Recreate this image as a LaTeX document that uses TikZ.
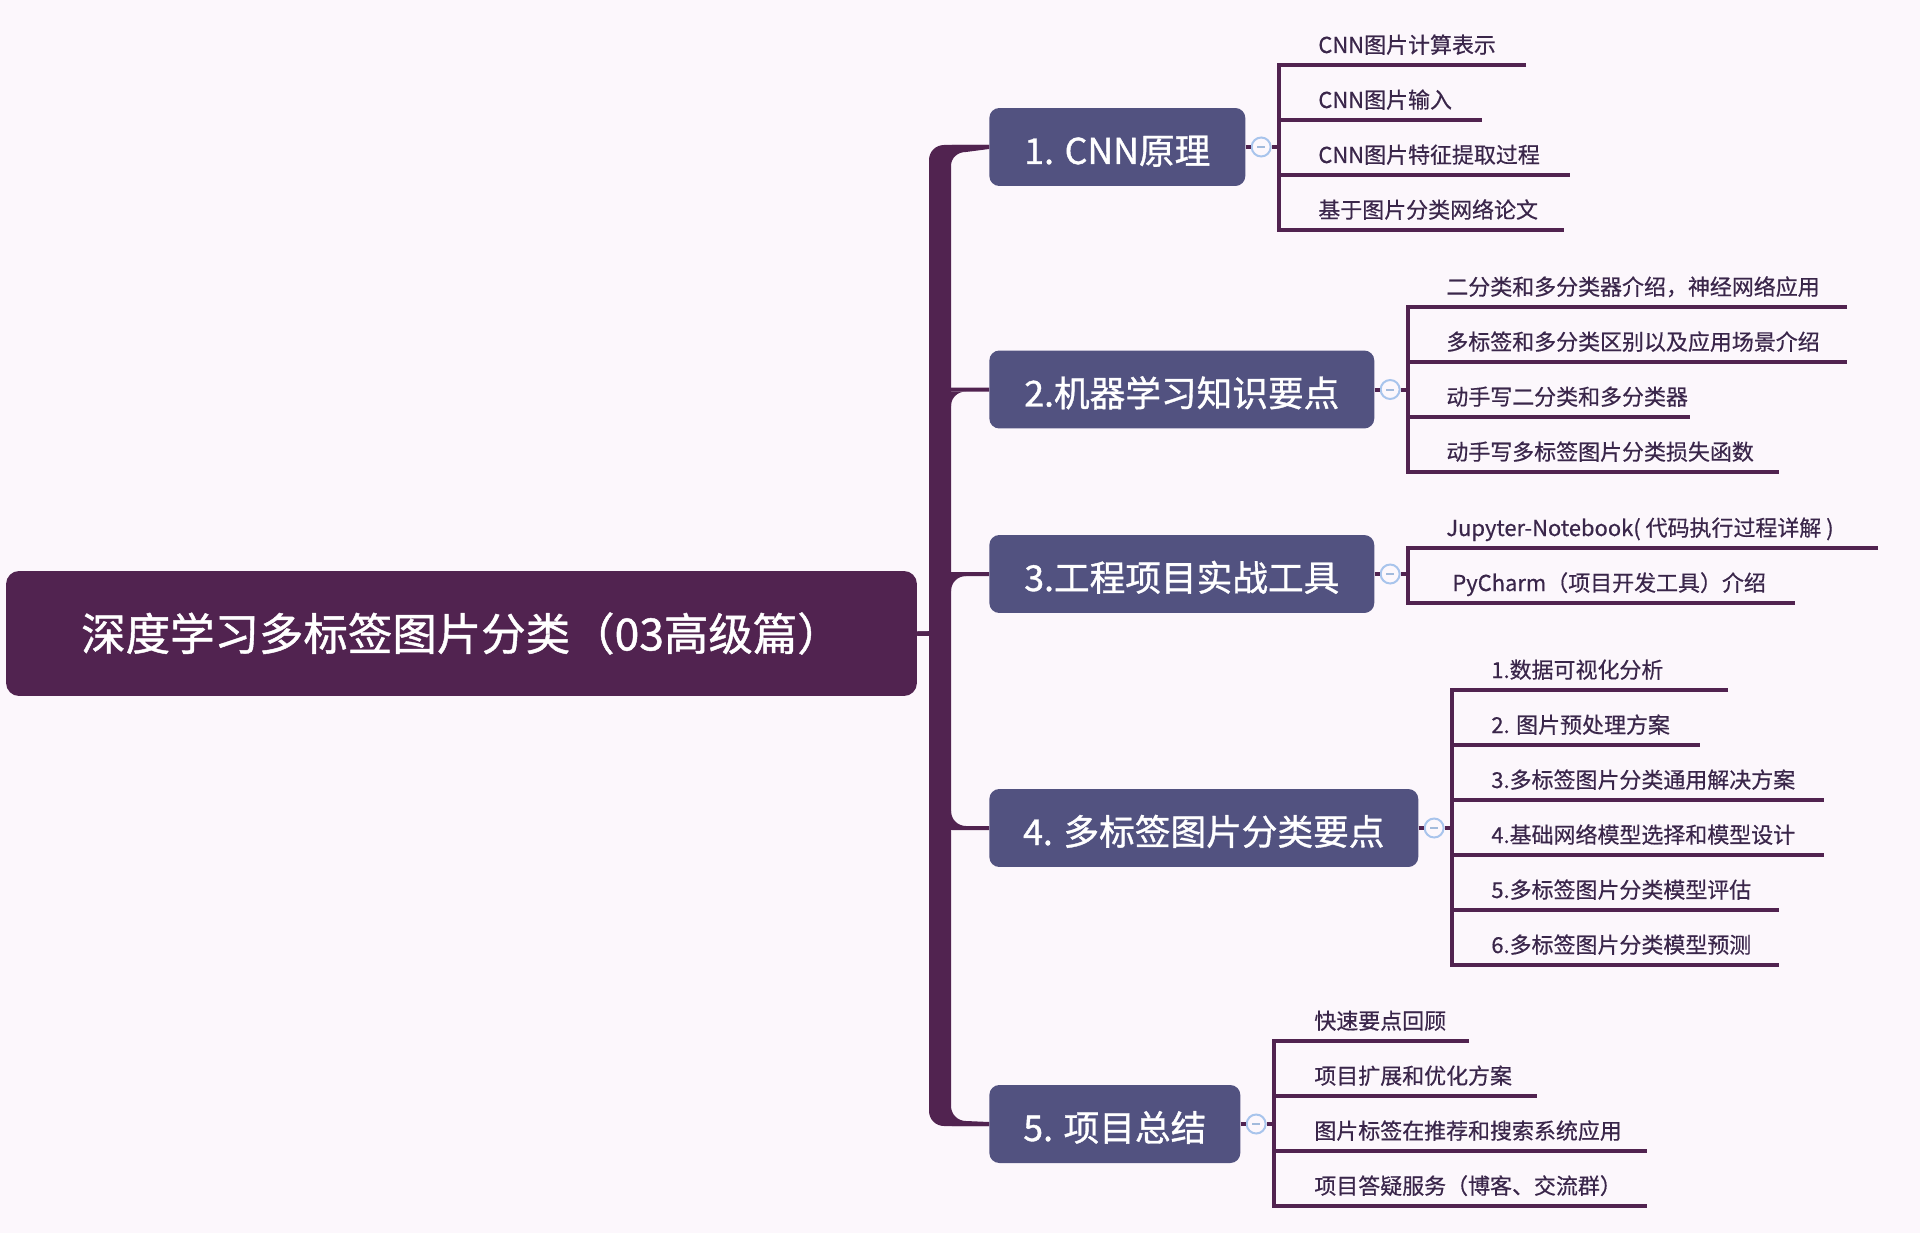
\documentclass[tikz,border=0pt]{standalone}
\usepackage{fontspec}
\setmainfont{Noto Sans CJK SC}[FakeBold=0.5]
\newfontfamily\boxfont{Noto Sans CJK SC}[FakeBold=1]
\usetikzlibrary{positioning}
\definecolor{plum}{RGB}{81,35,80}
\definecolor{slate}{RGB}{82,82,128}
\definecolor{paper}{RGB}{252,247,252}
\definecolor{ink}{RGB}{58,38,74}
\definecolor{foldblue}{RGB}{168,196,236}
\tikzset{
  rootbox/.style={fill=plum, text=white, rounded corners=0.26cm, minimum width=18.22cm,
    minimum height=2.5cm, font=\boxfont\fontsize{25.3}{28}\selectfont},
  topicbox/.style={fill=slate, text=white, rounded corners=0.2cm, minimum height=1.56cm,
    anchor=west, text height=0.68cm, text depth=0cm, font=\boxfont\fontsize{20.3}{24}\selectfont},
  leaf/.style={anchor=base west, inner sep=0pt, text=ink, font=\fontsize{12.5}{15}\selectfont},
  fold/.style={circle, draw=foldblue, fill=paper, line width=0.04cm, minimum size=0.38cm,
    inner sep=0pt, text=foldblue!85!gray},
  twig/.style={draw=plum, line width=0.08cm},
  stem/.style={draw=plum, line width=0.08cm, rounded corners=0.24cm},
}
\begin{document}
\begin{tikzpicture}[x=0.02cm, y=-0.02cm]
  \fill[paper] (0,0) rectangle (1920,1233);
  \node[rootbox] (root) at (461.5,633.5) {深度学习多标签图片分类（03高级篇）};
  \node[topicbox, minimum width=5.12cm] (t1) at (989,147) {1. CNN原理};
  \node[topicbox, minimum width=7.7cm] (t2) at (989,389.5) {2.机器学习知识要点};
  \node[topicbox, minimum width=7.7cm] (t3) at (989,574) {3.工程项目实战工具};
  \node[topicbox, minimum width=8.58cm] (t4) at (989,828) {4. 多标签图片分类要点};
  \node[topicbox, minimum width=5.02cm] (t5) at (989,1124) {5. 项目总结};
  \coordinate (hub) at (940,633.5);
  \begin{scope}[stem]
    \draw (root.east) -- (hub) |- (t1.west);
    \draw (root.east) -- (hub) |- (t2.west);
    \draw (root.east) -- (hub) |- (t3.west);
    \draw (root.east) -- (hub) |- (t4.west);
    \draw (root.east) -- (hub) |- (t5.west);
  \end{scope}
  \fill[plum] (951,166) .. controls (951,157.7) and (957.7,152) .. (966,152) -- (989,149)
    -- (989,145) -- (944,145) .. controls (935.7,145) and (929,151.7) .. (929,160)
    -- (929,1111) .. controls (929,1119.3) and (935.7,1126) .. (944,1126) -- (989,1126)
    -- (989,1122) -- (966,1121) .. controls (957.7,1121) and (951,1114.3) .. (951,1106) -- cycle;
  \fill[plum] (951,406) .. controls (951,397.7) and (957.7,391.5) .. (966,391.5) -- (951,391.5) -- cycle;
  \fill[plum] (951,591) .. controls (951,582.7) and (957.7,576) .. (966,576) -- (951,576) -- cycle;
  \fill[plum] (951,811) .. controls (951,819.3) and (957.7,826) .. (966,826) -- (951,826) -- cycle;
  \node[fold, right=0.1cm of t1] (c1) {\rule{0.16cm}{0.04cm}};
  \node[fold, right=0.1cm of t2] (c2) {\rule{0.16cm}{0.04cm}};
  \node[fold, right=0.1cm of t3] (c3) {\rule{0.16cm}{0.04cm}};
  \node[fold, right=0.1cm of t4] (c4) {\rule{0.16cm}{0.04cm}};
  \node[fold, right=0.1cm of t5] (c5) {\rule{0.16cm}{0.04cm}};
  \coordinate[right=0.14cm of c1] (b1);
  \coordinate[right=0.14cm of c2] (b2);
  \coordinate[right=0.14cm of c3] (b3);
  \coordinate[right=0.14cm of c4] (b4);
  \coordinate[right=0.14cm of c5] (b5);
  \draw[twig] (t1.east) -- (c1) -- (b1);
  \draw[twig] (t2.east) -- (c2) -- (b2);
  \draw[twig] (t3.east) -- (c3) -- (b3);
  \draw[twig] (t4.east) -- (c4) -- (b4);
  \draw[twig] (t5.east) -- (c5) -- (b5);

  \node[leaf] (l11) at (1318,53) {CNN图片计算表示};
  \node[leaf] (l12) at (1318,108) {CNN图片输入};
  \node[leaf] (l13) at (1318,163) {CNN图片特征提取过程};
  \node[leaf] (l14) at (1318,218) {基于图片分类网络论文};
  \coordinate (u11) at (1526,65);
  \coordinate (u12) at (1482,120);
  \coordinate (u13) at (1570,175);
  \coordinate (u14) at (1564,230);
  \draw[twig] (u11) -| (b1) |- (u14);
  \draw[twig] (b1 |- u12) -- (u12);
  \draw[twig] (b1 |- u13) -- (u13);

  \node[leaf] (l21) at (1446,295) {二分类和多分类器介绍，神经网络应用};
  \node[leaf] (l22) at (1446,350) {多标签和多分类区别以及应用场景介绍};
  \node[leaf] (l23) at (1446,405) {动手写二分类和多分类器};
  \node[leaf] (l24) at (1446,460) {动手写多标签图片分类损失函数};
  \coordinate (u21) at (1847,307);
  \coordinate (u22) at (1847,362);
  \coordinate (u23) at (1690,417);
  \coordinate (u24) at (1779,472);
  \draw[twig] (u21) -| (b2) |- (u24);
  \draw[twig] (b2 |- u22) -- (u22);
  \draw[twig] (b2 |- u23) -- (u23);

  \node[leaf] (l31) at (1446,536) {Jupyter-Notebook( 代码执行过程详解 )};
  \node[leaf] (l32) at (1452,591) {PyCharm（项目开发工具）介绍};
  \coordinate (u31) at (1878,548);
  \coordinate (u32) at (1795,603);
  \draw[twig] (u31) -| (b3) |- (u32);

  \node[leaf] (l41) at (1491,678) {1.数据可视化分析};
  \node[leaf] (l42) at (1491,733) {2. 图片预处理方案};
  \node[leaf] (l43) at (1491,788) {3.多标签图片分类通用解决方案};
  \node[leaf] (l44) at (1491,843) {4.基础网络模型选择和模型设计};
  \node[leaf] (l45) at (1491,898) {5.多标签图片分类模型评估};
  \node[leaf] (l46) at (1491,953) {6.多标签图片分类模型预测};
  \coordinate (u41) at (1728,690);
  \coordinate (u42) at (1700,745);
  \coordinate (u43) at (1824,800);
  \coordinate (u44) at (1824,855);
  \coordinate (u45) at (1779,910);
  \coordinate (u46) at (1779,965);
  \draw[twig] (u41) -| (b4) |- (u46);
  \draw[twig] (b4 |- u42) -- (u42);
  \draw[twig] (b4 |- u43) -- (u43);
  \draw[twig] (b4 |- u44) -- (u44);
  \draw[twig] (b4 |- u45) -- (u45);

  \node[leaf] (l51) at (1314,1029) {快速要点回顾};
  \node[leaf] (l52) at (1314,1084) {项目扩展和优化方案};
  \node[leaf] (l53) at (1314,1139) {图片标签在推荐和搜索系统应用};
  \node[leaf] (l54) at (1314,1194) {项目答疑服务（博客、交流群）};
  \coordinate (u51) at (1469,1041);
  \coordinate (u52) at (1537,1096);
  \coordinate (u53) at (1647,1151);
  \coordinate (u54) at (1647,1206);
  \draw[twig] (u51) -| (b5) |- (u54);
  \draw[twig] (b5 |- u52) -- (u52);
  \draw[twig] (b5 |- u53) -- (u53);
\end{tikzpicture}
\end{document}
